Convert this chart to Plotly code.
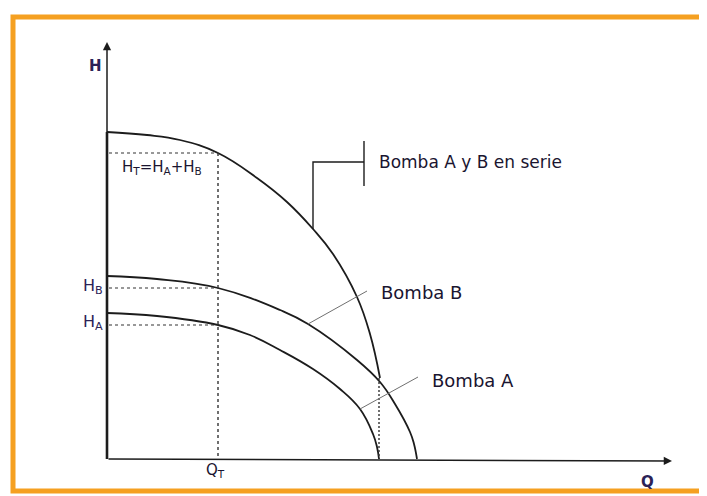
import plotly.graph_objects as go

# ---- data (Q, H in arbitrary units) ----
Q_A = [0.0, 0.50, 1.11, 1.43, 1.73, 2.06, 2.33, 2.53, 2.66, 2.70, 2.72]
H_A = [1.46, 1.43, 1.34, 1.24, 1.09, 0.90, 0.70, 0.50, 0.25, 0.12, 0.0]

Q_B = [0.0, 0.50, 1.11, 1.73, 2.01, 2.50, 2.73, 2.88, 3.03, 3.07, 3.10]
H_B = [1.83, 1.80, 1.71, 1.49, 1.35, 0.99, 0.77, 0.55, 0.27, 0.15, 0.0]

Q_S = [0.0, 0.40, 0.73, 1.11, 1.50, 1.80, 2.06, 2.26, 2.50, 2.63, 2.73]
H_S = [3.27, 3.24, 3.19, 3.06, 2.81, 2.57, 2.30, 2.05, 1.62, 1.25, 0.81]

Q_T = 1.11
H_T = 3.06
H_Bop = 1.71
H_Aop = 1.34
Q_Amax = 2.72
H_Bend = 0.81

Q_AXIS_END = 5.65
H_AXIS_END = 4.17

LINE = "#1c1c1c"
TXT = "#1a1530"
TXT2 = "#2b2256"
FONT = "DejaVu Sans"

# the page body has an 8px margin: the figure is drawn 8px in from the top-left
W, H = 699, 488

fig = go.Figure()

def line(x, y, color=LINE, width=1.6, dash=None, shape="linear"):
    ln = dict(color=color, width=width, dash=dash, shape=shape)
    if shape == "spline":
        ln["smoothing"] = 1.2
    fig.add_trace(go.Scatter(x=x, y=y, mode="lines", line=ln,
                             hoverinfo="skip", showlegend=False))

# pump curves
line(Q_A, H_A, shape="spline", width=1.8)
line(Q_B, H_B, shape="spline", width=1.8)
line(Q_S, H_S, shape="spline", width=1.8)

# thicker part of the H axis
line([0, 0], [0, H_S[0]], width=2.6)

# dashed guide lines
dash = "3px,3px"
line([0.02, Q_T], [H_T, H_T], width=1.2, dash=dash, color="#333")
line([Q_T, Q_T], [H_T, 0], width=1.4, dash=dash, color="#333")
line([0.02, Q_T], [H_Bop, H_Bop], width=1.2, dash=dash, color="#333")
line([0.02, Q_T], [H_Aop, H_Aop], width=1.2, dash=dash, color="#333")
line([Q_Amax, Q_Amax], [H_Bend, 0], width=1.4, dash="2px,2px", color="#333")

# leader lines
line([2.06, 2.06, 2.57], [2.30, 2.97, 2.97], width=1.4)
line([2.57, 2.57], [3.18, 2.73], width=1.4)
line([2.01, 2.60], [1.35, 1.68], width=1.0, color="#707070")
line([2.53, 3.11], [0.50, 0.82], width=1.0, color="#707070")

# axes with arrows
fig.add_annotation(x=0, y=H_AXIS_END, ax=0, ay=0, xref="x", yref="y", axref="x", ayref="y",
                   showarrow=True, arrowhead=2, arrowsize=1.1, arrowwidth=1.5,
                   arrowcolor=LINE, text="")
fig.add_annotation(x=Q_AXIS_END, y=-0.02, ax=0, ay=0, xref="x", yref="y", axref="x", ayref="y",
                   showarrow=True, arrowhead=2, arrowsize=1.1, arrowwidth=1.5,
                   arrowcolor=LINE, text="")

def label(x, y, text, size=15, color=TXT, xanchor="center", bold=False, family=FONT):
    if bold:
        text = "<b>" + text + "</b>"
    fig.add_annotation(x=x, y=y, xref="x", yref="y", text=text, showarrow=False,
                       xanchor=xanchor, yanchor="middle",
                       font=dict(family=family, size=size, color=color))

label(-0.12, 3.93, "H", size=15, color=TXT2, bold=True)
label(0.55, 2.92, "H<sub>T</sub>=H<sub>A</sub>+H<sub>B</sub>", size=15)
label(-0.14, 1.73, "H<sub>B</sub>", size=16, color=TXT2)
label(-0.14, 1.37, "H<sub>A</sub>", size=16, color=TXT2)
label(1.08, -0.11, "Q<sub>T</sub>", size=15)
label(5.40, -0.23, "Q", size=15, color=TXT2, bold=True)
label(2.70, 2.97, "Bomba A y B en serie", size=17, xanchor="left")
label(2.72, 1.67, "Bomba B", size=18, xanchor="left")
label(3.23, 0.79, "Bomba A", size=18, xanchor="left")

# orange frame
fig.add_shape(type="rect", xref="paper", yref="paper",
              x0=(13 - 8) / W, x1=1.03, y0=1 - (491 - 8) / H, y1=1 - (17 - 8) / H,
              line=dict(color="#f5a021", width=5), fillcolor="rgba(0,0,0,0)", layer="above")

fig.update_layout(
    width=W, height=H,
    margin=dict(l=0, r=0, t=0, b=0),
    paper_bgcolor="white", plot_bgcolor="white",
    xaxis=dict(range=[-0.99, 6.00], visible=False, fixedrange=True),
    yaxis=dict(range=[-0.37, 4.51], visible=False, fixedrange=True),
    showlegend=False,
)

fig.write_html("out.html")
